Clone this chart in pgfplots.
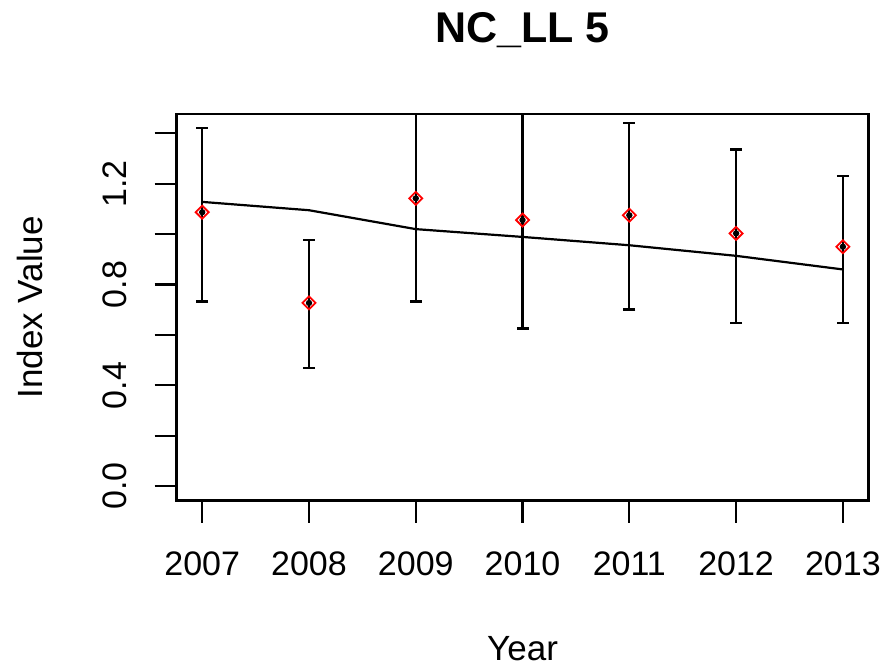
\documentclass[border=0pt]{standalone}
\usepackage{pgfplots}
\pgfplotsset{compat=1.18}
\usepackage{fontspec}
\setmainfont{Liberation Sans}

\definecolor{rred}{RGB}{255,0,0}

\begin{document}
\begin{tikzpicture}
\useasboundingbox (0,0) rectangle (884pt,667pt);
\begin{axis}[
  at={(176.6pt,166.5pt)}, anchor=south west,
  scale only axis, width=691.9pt, height=386.5pt,
  xmin=2006.76, xmax=2013.24, ymin=-0.0568, ymax=1.4768,
  axis line style={line width=2.2pt},
  tick style={line width=2.2pt, black},
  tick align=outside, tick pos=left,
  major tick length=22pt,
  xtick={2007,2008,2009,2010,2011,2012,2013},
  xticklabels={2007,2008,2009,2010,2011,2012,2013},
  ytick={0,0.2,0.4,0.6,0.8,1.0,1.2,1.4},
  yticklabels={0.0,,0.4,,0.8,,1.2,},
  xticklabel style={font=\fontsize{34}{40}\selectfont, anchor=north, inner sep=0pt, yshift=-29pt},
  yticklabel style={font=\fontsize{34}{40}\selectfont, xshift=-28pt, rotate=90, anchor=south, inner sep=0pt},
  title={NC\_LL 5},
  title style={font=\fontsize{43}{50}\selectfont\bfseries, at={(0.5,1.1707)}, anchor=base, inner sep=0pt},
  xlabel={Year},
  xlabel style={font=\fontsize{35}{42}\selectfont, at={(0.5,-0.414)}, anchor=base, inner sep=0pt},
  ylabel={Index Value},
  ylabel style={font=\fontsize{35}{42}\selectfont, at={(-0.1936,0.5)}, anchor=base, inner sep=0pt, rotate=0},
  /pgf/number format/assume math mode=true,
]
% fitted trend
\addplot[black, line width=2.2pt, mark=none] table {
x y
2007 1.128
2008 1.095
2009 1.020
2010 0.989
2011 0.956
2012 0.914
2013 0.860
};
% confidence intervals of the annual index
\addplot[black, line width=2.2pt, only marks, mark=none,
  error bars/.cd, y dir=both, y explicit,
  error bar style={line width=2.2pt, black},
  error mark options={rotate=90, mark size=6pt, line width=2.2pt, black}]
  table[x=year, y=idx, y error plus=ep, y error minus=em] {
year idx ep em
2007 1.087 0.335 0.354
2008 0.727 0.249 0.257
2009 1.142 0.408 0.409
2010 1.056 0.434 0.430
2011 1.075 0.367 0.374
2012 1.003 0.333 0.355
2013 0.950 0.280 0.302
};
% annual index values
\addplot[rred, only marks, mark=square, mark size=4.6pt, line width=1.8pt,
  mark options={rotate=45}] table {
x y
2007 1.087
2008 0.727
2009 1.142
2010 1.056
2011 1.075
2012 1.003
2013 0.950
};
\end{axis}
\end{tikzpicture}
\end{document}
